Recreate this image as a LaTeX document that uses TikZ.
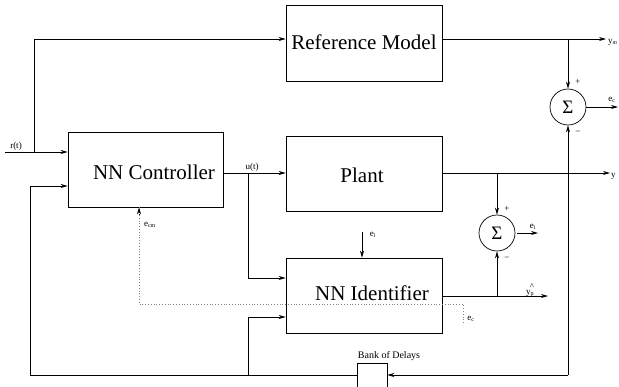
\documentclass[tikz,border=0pt]{standalone}
\usepackage{fontspec}
\setmainfont{Liberation Serif}
\usetikzlibrary{arrows.meta}
\tikzset{
  blk/.style={draw, line width=0.7pt, inner sep=0pt},
  sumnode/.style={draw, circle, line width=0.7pt, minimum size=36pt, inner sep=0pt, font=\fontsize{19}{19}\selectfont},
  big/.style={font=\fontsize{21}{21}\selectfont, inner sep=0pt},
  lbl/.style={font=\fontsize{9}{9}\selectfont, inner sep=0pt},
  wire/.style={line width=0.7pt},
  arr/.style={wire, -{Stealth[length=7pt,width=4pt]}},
  dots/.style={line width=0.8pt, gray, dotted}
}
\begin{document}
\begin{tikzpicture}[x=1pt,y=-1pt]
\useasboundingbox (0,0) rectangle (619,386);
\begin{scope}
\clip (0,0) rectangle (619,386);
% boxes
\node[blk, minimum width=156pt, minimum height=76pt] (rm) at (364,43) {};
\node[big] (rmt) at (364,42) {Reference Model};
\node[blk, minimum width=155pt, minimum height=75pt] (nnc) at (145.5,169.5) {};
\node[big] (nnct) at (154,172) {NN Controller};
\node[blk, minimum width=156pt, minimum height=75pt] (pl) at (364,173.5) {};
\node[big] (plt) at (362,175) {Plant};
\node[blk, minimum width=156pt, minimum height=75pt] (nni) at (364,295.5) {};
\node[blk, minimum width=30pt, minimum height=30pt] (bd) at (372,378) {};
\node[font=\fontsize{10}{10}\selectfont, inner sep=0pt] (bdl) at (389,356) {Bank of Delays};
\node[sumnode] (s1) at (568,107) {Σ};
\node[sumnode] (s2) at (497,233) {Σ};
% coordinates
\coordinate (rin) at (5,152);
\coordinate (rup) at (34,152);
\coordinate (ymo) at (606,39);
\coordinate (ymb) at (568,39);
\coordinate (eco) at (618,107);
\coordinate (brc) at (568,375);
\coordinate (blc) at (30,375);
\coordinate (bmid) at (248,375);
\coordinate (ubr) at (248,173);
\coordinate (ypo) at (610,173);
\coordinate (ypb) at (497,173);
\coordinate (yho) at (548,296);
\coordinate (yhb) at (497,296);
\coordinate (eio) at (538,233);
\coordinate (eis) at (517,233);
\coordinate (eit) at (362,232);
\coordinate (dt) at (463,323);
\coordinate (dc) at (463,304);
\coordinate (dl) at (139,304);
% dotted path (drawn under identifier text)
\draw[dots] (dt) -- (dc) -- (dl) -- (dl |- nnc.south);
\draw[dots, -{Stealth[length=7pt,width=4pt]}, black] (139,215) -- (dl |- nnc.south);
\node[big] (nnit) at (372,293) {NN Identifier};
% wires
\draw[arr] (rin) -- (rin -| nnc.west);
\draw[arr] (rup) |- (rm.west |- 0,39);
\draw[arr] (rm.east |- 0,39) -- (ymo);
\draw[arr] (ymb) -- (s1.north);
\draw[arr] (s1.east) -- (eco);
\draw[arr] (brc) -- (s1.south);
\draw[arr] (brc) -- (bd.east |- brc);
\draw[arr] (bd.west |- blc) -- (blc) |- (nnc.west |- 0,186);
\draw[arr] (bmid) |- (nni.west |- 0,317);
\draw[arr] (nnc.east |- 0,173) -- (pl.west |- 0,173);
\draw[arr] (ubr) |- (nni.west |- 0,278);
\draw[arr] (pl.east |- ypo) -- (ypo);
\draw[arr] (ypb) -- (s2.north);
\draw[arr] (nni.east |- yho) -- (yho);
\draw[arr] (yhb) -- (s2.south);
\draw[arr] (eis) -- (eio);
\draw[arr] (eit) -- (eit |- nni.north);
% labels
\node[lbl] (lr) at (16,146) {r(t)};
\node[lbl] (lu) at (252,167) {u(t)};
\node[lbl, anchor=west] (lym) at (608,42) {y\textsubscript{\textit{m}}};
\node[lbl, anchor=west] (ly) at (611,176) {y};
\node[lbl] (lec) at (612,100) {e\textsubscript{c}};
\node[lbl] (lei) at (533,227) {e\textsubscript{i}};
\node[lbl] (lei2) at (373,235) {e\textsubscript{i}};
\node[lbl] (lyh) at (530,290) {y\textsubscript{p}\llap{\raisebox{1.2ex}{\textasciicircum}}};
\node[lbl] (lecm) at (150,225) {e\textsubscript{cm}};
\node[lbl] (lec2) at (471,319) {e\textsubscript{c}};
\node[lbl] (p1) at (578,82) {+};
\node[lbl] (m1) at (578,133) {−};
\node[lbl] (p2) at (507,209) {+};
\node[lbl] (m2) at (507,259) {−};
\end{scope}
\end{tikzpicture}
\end{document}
